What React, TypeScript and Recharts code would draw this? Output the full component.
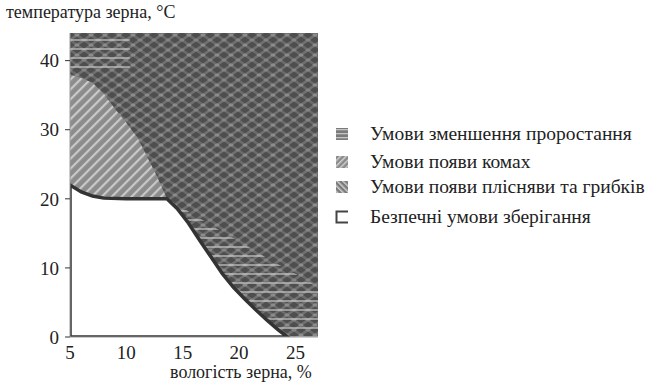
import { ComposedChart, Area, Line, XAxis, YAxis } from "recharts"

// вологість зерна (%) / температура (°C)
const safeMoisture = [5, 6, 7, 8, 10, 12, 13.6, 14.5, 15.5, 16.5, 17.5, 18.5, 19.5, 20.5, 21.5, 22.5, 23.5, 24.3]
const safeTemp = [22, 21, 20.4, 20.1, 20, 20, 20, 18.6, 16.5, 14, 11.6, 9.2, 7.2, 5.5, 3.9, 2.4, 1, 0]

const insectMoisture = [5, 6, 7, 8, 9, 10, 11, 12, 12.7, 13.6]
const insectLow = [22, 21, 20.4, 20.1, 20, 20, 20, 20, 20, 20]
const insectHigh = [38, 37.5, 36.8, 35.2, 33, 31, 28.8, 25.6, 23.3, 20]

const germMoisture = [13.6, 14.5, 15.5, 16.5, 17.5, 18.5, 19.5, 20.5, 21.5, 22.5, 23.5, 24.3, 25.5, 27]
const germLow = [20, 18.6, 16.5, 14, 11.6, 9.2, 7.2, 5.5, 3.9, 2.4, 1, 0, 0, 0]
const germHigh = [20, 19.2, 18.2, 17.2, 16.2, 15.2, 14.3, 13.3, 12.4, 11.4, 10.5, 9.8, 8.7, 7.3]

const topMoisture = [5, 10.3]
const topLow = [38.5, 38.5]
const topHigh = [44, 44]

const moldMoisture = [5, 27]
const moldLow = [0, 0]
const moldHigh = [44, 44]

const xTicks = [5, 10, 15, 20, 25]
const yTicks = [0, 10, 20, 30, 40]

const legendItems = [
  { label: "Умови зменшення проростання", fill: "url(#germ-sw)" },
  { label: "Умови появи комах", fill: "url(#insect-sw)" },
  { label: "Умови появи плісняви та грибків", fill: "url(#mold-sw)" },
  { label: "Безпечні умови зберігання", fill: "safe" }
]

function ranges(xs: number[], lo: number[], hi: number[]) {
  return xs.map((x, i) => ({ x, range: [lo[i], hi[i]] }))
}

const moldData = ranges(moldMoisture, moldLow, moldHigh)
const germData = ranges(germMoisture, germLow, germHigh)
const topData = ranges(topMoisture, topLow, topHigh)
const insectData = ranges(insectMoisture, insectLow, insectHigh)
const safeData = safeMoisture.map((x, i) => ({ x, range: [0, safeTemp[i]] }))
const outlineData = [
  { x: 5, t: 0 },
  ...safeMoisture.map((x, i) => ({ x, t: safeTemp[i] })),
  { x: 5, t: 0 }
]

const font = "'Times New Roman', 'Liberation Serif', Tinos, 'DejaVu Serif', serif"

function Patterns() {
  return (
    <svg width={0} height={0} style={{ position: "absolute" }}>
      <defs>
        <pattern id="mold" width={14} height={10} patternUnits="userSpaceOnUse">
          <rect width={14} height={10} fill="#4e4e4e" />
          <path d="M-7,5 L7,-5 M0,10 L14,0 M7,15 L21,5" stroke="#707070" strokeWidth={2.6} />
          <path d="M-7,5 L7,15 M0,0 L14,10 M7,-5 L21,5" stroke="#6a6a6a" strokeWidth={2.6} />
          <ellipse cx={7} cy={5} rx={2.4} ry={1.6} fill="#8c8c8c" />
          <ellipse cx={0} cy={0} rx={2.4} ry={1.6} fill="#848484" />
          <ellipse cx={14} cy={0} rx={2.4} ry={1.6} fill="#848484" />
          <ellipse cx={0} cy={10} rx={2.4} ry={1.6} fill="#848484" />
          <ellipse cx={14} cy={10} rx={2.4} ry={1.6} fill="#848484" />
        </pattern>
        <pattern id="insect" width={7} height={7} patternUnits="userSpaceOnUse" patternTransform="rotate(45)">
          <rect width={7} height={7} fill="#8c8c8c" />
          <rect width={2.2} height={7} fill="#c9c9c9" />
        </pattern>
        <pattern id="germ" width={9} height={9} patternUnits="userSpaceOnUse">
          <rect y={3} width={9} height={2} fill="rgba(205,205,205,0.6)" />
        </pattern>
        <pattern id="germ-sw" width={4} height={4} patternUnits="userSpaceOnUse">
          <rect width={4} height={4} fill="#7a7a7a" />
          <rect y={2} width={4} height={1.3} fill="#c4c4c4" />
        </pattern>
        <pattern id="insect-sw" width={4} height={4} patternUnits="userSpaceOnUse" patternTransform="rotate(45)">
          <rect width={4} height={4} fill="#8a8a8a" />
          <rect width={1.5} height={4} fill="#cfcfcf" />
        </pattern>
        <pattern id="mold-sw" width={4} height={4} patternUnits="userSpaceOnUse" patternTransform="rotate(-45)">
          <rect width={4} height={4} fill="#7a7a7a" />
          <rect width={1.5} height={4} fill="#cfcfcf" />
        </pattern>
      </defs>
    </svg>
  )
}

export default function App() {
  return (
    <div style={{ position: "absolute", left: 0, top: 0, width: 651, height: 385, background: "#fff", fontFamily: font }}>
      <Patterns />
      <div style={{ position: "absolute", left: 6, top: 2, fontSize: 18, color: "#222", whiteSpace: "nowrap" }}>
        температура зерна, °C
      </div>
      <div style={{ position: "absolute", left: 170, top: 362, fontSize: 18, color: "#222", whiteSpace: "nowrap" }}>
        вологість зерна, %
      </div>

      <ComposedChart width={651} height={385} margin={{ top: 33, right: 333, bottom: 0, left: 0 }}>
        <XAxis
          dataKey="x"
          type="number"
          domain={[5, 27]}
          ticks={xTicks}
          height={48}
          allowDataOverflow
          axisLine={{ stroke: "#9a9a9a" }}
          tickLine={false}
          tickMargin={3}
          tick={{ fill: "#222", fontSize: 19, fontFamily: font }}
        />
        <YAxis
          type="number"
          domain={[0, 44]}
          ticks={yTicks}
          width={70}
          allowDataOverflow
          axisLine={{ stroke: "#9a9a9a" }}
          tickLine={{ stroke: "#333" }}
          tickSize={5}
          tickMargin={6}
          tick={{ fill: "#222", fontSize: 19, fontFamily: font }}
        />
        <Area data={moldData} dataKey="range" type="linear" stroke="none" fill="url(#mold)" fillOpacity={1} isAnimationActive={false} />
        <Area data={germData} dataKey="range" type="linear" stroke="none" fill="url(#germ)" fillOpacity={1} isAnimationActive={false} />
        <Area data={topData} dataKey="range" type="linear" stroke="none" fill="url(#germ)" fillOpacity={1} isAnimationActive={false} />
        <Area data={insectData} dataKey="range" type="linear" stroke="none" fill="url(#insect)" fillOpacity={1} isAnimationActive={false} />
        <Area data={safeData} dataKey="range" type="linear" stroke="none" fill="#fff" fillOpacity={1} isAnimationActive={false} />
        <Line data={outlineData} dataKey="t" type="linear" stroke="#333" strokeWidth={3.5} dot={false} isAnimationActive={false} />
      </ComposedChart>

      {legendItems.map((item, i) => (
        <div
          key={item.label}
          style={{
            position: "absolute",
            left: 335,
            top: [123, 151, 176, 206][i],
            display: "flex",
            alignItems: "center",
            fontSize: 19.5,
            color: "#222",
            whiteSpace: "nowrap"
          }}
        >
          <svg width={14} height={14} style={{ marginRight: 21 }}>
            {item.fill === "safe" ? (
              <path d="M13,1.5 L1.5,1.5 L1.5,12.5 L13,12.5" fill="#fff" stroke="#444" strokeWidth={2} />
            ) : (
              <rect x={1} y={1} width={12} height={12} fill={item.fill} />
            )}
          </svg>
          {item.label}
        </div>
      ))}
    </div>
  )
}
